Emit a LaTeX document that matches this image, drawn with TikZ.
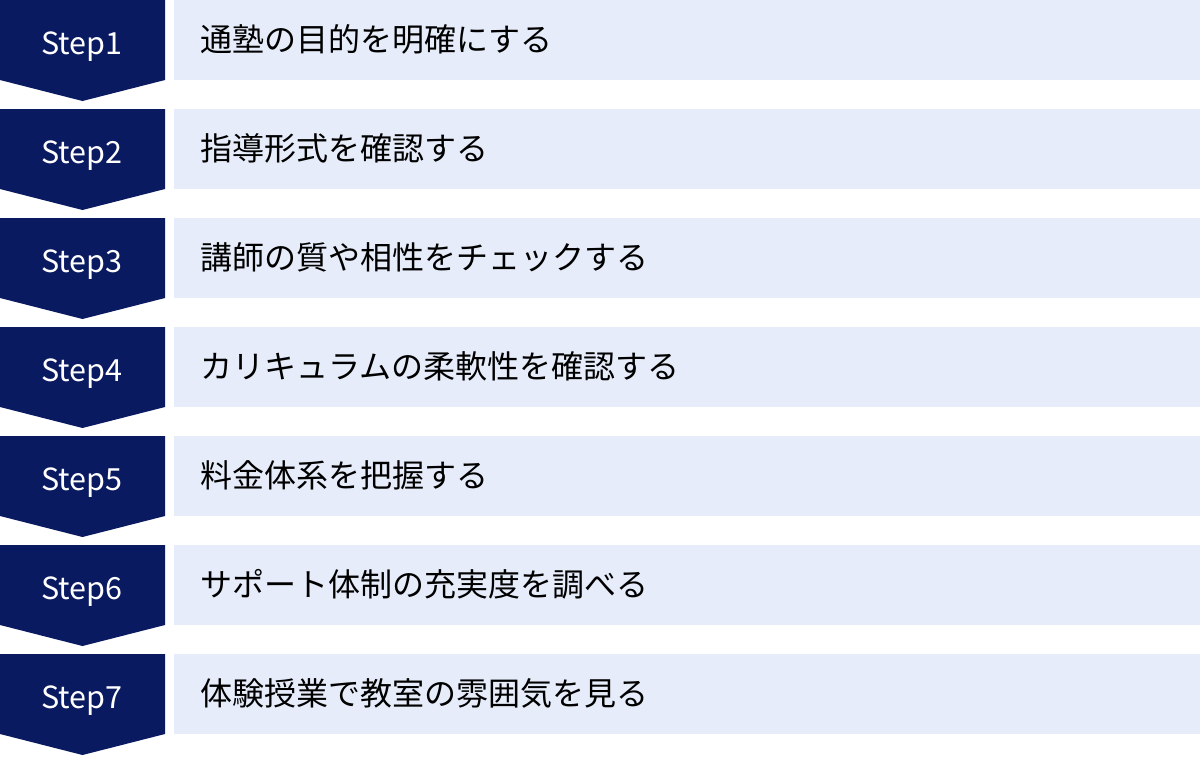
\documentclass[tikz,border=0pt]{standalone}
\usepackage{fontspec}
\setmainfont{Noto Sans CJK JP}
\newfontfamily\jpfont{Noto Sans CJK JP}
\definecolor{navy}{HTML}{0A1A60}
\definecolor{lightbox}{HTML}{E6ECF9}
\begin{document}
\begin{tikzpicture}[x=1pt,y=-1pt,
  steplabel/.style={text=white,font=\jpfont\fontsize{30.5}{35}\selectfont,anchor=base,inner sep=0pt},
  itemtext/.style={text=black,font=\jpfont\fontsize{32}{38}\selectfont,anchor=base west,inner sep=0pt},
  chevron/.style={fill=navy},
  band/.style={fill=lightbox}]
\useasboundingbox (0,0) rectangle (1200,756);
\foreach \i/\txt in {0/通塾の目的を明確にする,1/指導形式を確認する,2/講師の質や相性をチェックする,3/カリキュラムの柔軟性を確認する,4/料金体系を把握する,5/サポート体制の充実度を調べる,6/体験授業で教室の雰囲気を見る}{
  \pgfmathsetmacro{\t}{109*\i}
  \pgfmathtruncatemacro{\n}{\i+1}
  \fill[chevron] (0,\t) -- (165,\t) -- (165,\t+80) -- (82.5,\t+101) -- (0,\t+80) -- cycle;
  \fill[band] (174,\t) rectangle (1200,\t+80);
  \node[steplabel] (step\n) at (82,\t+54.5) {Step\n};
  \node[itemtext] (item\n) at (200,\t+51.5) {\txt};
}
\end{tikzpicture}
\end{document}
